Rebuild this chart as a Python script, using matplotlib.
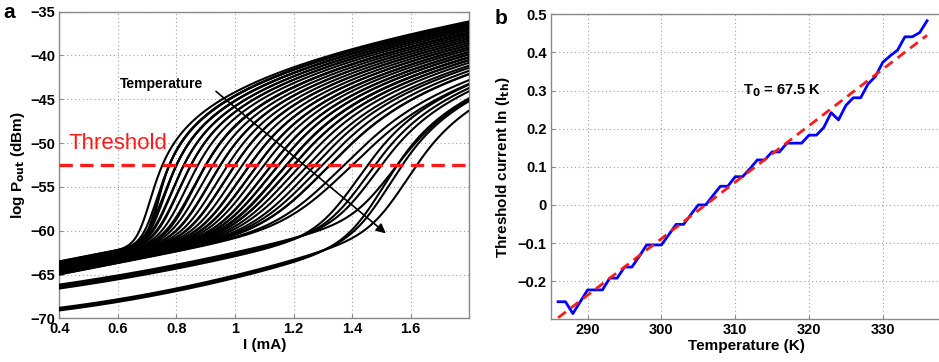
import numpy as np
import matplotlib
matplotlib.use("Agg")
import matplotlib.pyplot as plt

plt.rcParams['font.family'] = ['Liberation Sans', 'DejaVu Sans']
plt.rcParams['axes.unicode_minus'] = True

# ---------------- data: panel b ----------------
temperature_K = [286, 287, 288, 289, 290, 291, 292, 293, 294, 295,
                 296, 297, 298, 299, 300, 301, 302, 303, 304, 305,
                 306, 307, 308, 309, 310, 311, 312, 313, 314, 315,
                 316, 317, 318, 319, 320, 321, 322, 323, 324, 325,
                 326, 327, 328, 329, 330, 331, 332, 333, 334, 335, 336]
ln_ith = [-0.254, -0.254, -0.285, -0.254, -0.223, -0.223, -0.223, -0.192, -0.192, -0.163,
          -0.163, -0.135, -0.105, -0.105, -0.105, -0.078, -0.051, -0.051, -0.025, 0.0,
          0.0, 0.025, 0.049, 0.049, 0.074, 0.074, 0.095, 0.118, 0.118, 0.139,
          0.139, 0.162, 0.162, 0.162, 0.183, 0.183, 0.203, 0.242, 0.223, 0.261,
          0.281, 0.281, 0.317, 0.337, 0.374, 0.391, 0.406, 0.441, 0.441, 0.452, 0.483]
fit_T = [286, 336]
fit_ln = [-0.296, 0.445]
t0_label = "T$_\\mathbf{0}$ = 67.5 K"

# ---------------- data: panel a ----------------
threshold_dbm = -52.5
# sub-threshold baselines: level at 0.4 mA, slope (dB/mA), curvature (dB/mA^2)
baseline_upper_start = [-63.5, -65.0]
baseline_upper_slope = 6.5
baseline_mid = (-66.6, 4.8, 2.2)
baseline_low = (-69.1, 4.2, 3.3)
group_of_curve = ["upper"] * 44 + ["mid"] * 4 + ["low"] * 3
turn_on_width_upper = [0.015, 0.085]  # mA, coldest -> hottest upper-bundle curve
turn_on_width_mid = 0.055
turn_on_width_low = 0.05
stim_level = -39.8                    # above-threshold level reference (dBm)
stim_slope = 3.0                      # dB/mA

# ---------------- figure ----------------
fig = plt.figure(figsize=(9.39, 3.62), dpi=100)
axa = fig.add_axes([0.0632, 0.1207, 0.4366, 0.847])
axb = fig.add_axes([0.5865, 0.118, 0.4165, 0.8425])

grid_kw = dict(color='#a0a0a0', linestyle=(0, (1, 2.5)), linewidth=0.8)
for ax in (axa, axb):
    for s in ax.spines.values():
        s.set_color('#888888')
        s.set_linewidth(1.0)
    ax.tick_params(direction='in', length=3, color='#888888',
                   labelsize=10.5, pad=3, top=False, right=False)
    ax.grid(True, **grid_kw)
    ax.set_axisbelow(True)

# ---- panel a curves ----
I = np.linspace(0.4, 1.8, 500)
n = len(temperature_K)
Ith = np.exp(np.array(ln_ith))
upper_idx = [k for k, g in enumerate(group_of_curve) if g == "upper"]
for k in range(n):
    g = group_of_curve[k]
    d = I - 0.4
    if g == "upper":
        frac = upper_idx.index(k) / max(len(upper_idx) - 1, 1)
        b0 = baseline_upper_start[0] + frac * (baseline_upper_start[1] - baseline_upper_start[0])
        base = b0 + baseline_upper_slope * d
        w = turn_on_width_upper[0] + (turn_on_width_upper[1] - turn_on_width_upper[0]) * frac ** 0.85
    elif g == "mid":
        b0, s1, s2 = baseline_mid
        base = b0 + s1 * d + s2 * d ** 2 + 0.15 * (k - 44)
        w = turn_on_width_mid
    else:
        b0, s1, s2 = baseline_low
        base = b0 + s1 * d + s2 * d ** 2 + 0.15 * (k - 48)
        w = turn_on_width_low
    A = stim_level - 0.01 * (temperature_K[k] - temperature_K[0])
    It = Ith[k] - 0.05
    for _ in range(10):
        x = I - It
        sp = w * np.logaddexp(0, x / w)
        Lst = A + 10 * np.log10(sp) + stim_slope * np.clip(x, 0, None)
        L = 10 * np.log10(10 ** (base / 10) + 10 ** (Lst / 10))
        idx = int(np.argmax(L >= threshold_dbm))
        if L[idx] < threshold_dbm:
            It -= 0.05
            continue
        if idx == 0:
            It += 0.05
            continue
        cross = np.interp(threshold_dbm, L[idx - 1:idx + 1], I[idx - 1:idx + 1])
        It += Ith[k] - cross
    axa.plot(I, L, color='black', linewidth=1.5, zorder=3)

axa.axhline(threshold_dbm, color='#ff1a1a', linewidth=2.4, linestyle=(0, (4, 2.2)), zorder=4)
axa.text(0.43, -50.0, "Threshold", color='#ff1a1a', fontsize=16, va='center', ha='left', zorder=5)
axa.annotate("", xy=(1.515, -60.3), xytext=(0.935, -44.1),
             arrowprops=dict(arrowstyle='-|>', color='black', lw=1.2,
                             mutation_scale=14, shrinkA=0, shrinkB=0), zorder=6)
axa.text(0.606, -43.2, "Temperature", fontsize=10, fontweight='bold', ha='left', va='center', zorder=6)

axa.set_xlim(0.4, 1.8)
axa.set_ylim(-70, -35)
axa.set_xticks([0.4, 0.6, 0.8, 1.0, 1.2, 1.4, 1.6])
axa.set_xticklabels(["0.4", "0.6", "0.8", "1", "1.2", "1.4", "1.6"])
axa.set_yticks(np.arange(-70, -34, 5))
for lab in axa.get_xticklabels() + axa.get_yticklabels():
    lab.set_fontweight('bold')
axa.set_xlabel("I (mA)", fontsize=11, fontweight='bold', labelpad=1)
axa.set_ylabel("log P$_{\\mathbf{out}}$ (dBm)", fontsize=11, fontweight='bold', labelpad=2)

# ---- panel b ----
axb.plot(temperature_K, ln_ith, color='#0000ff', linewidth=2.0, zorder=3)
axb.plot(fit_T, fit_ln, color='#ff1a1a', linewidth=2.0, linestyle=(0, (3.5, 2.2)), zorder=4)
axb.text(311.0, 0.30, t0_label, fontsize=10.5, fontweight='bold', ha='left', va='center')
axb.set_xlim(285, 338)
axb.set_ylim(-0.3, 0.5)
axb.set_xticks([290, 300, 310, 320, 330])
axb.set_yticks([-0.2, -0.1, 0, 0.1, 0.2, 0.3, 0.4, 0.5])
axb.set_yticklabels(["\u22120.2", "\u22120.1", "0", "0.1", "0.2", "0.3", "0.4", "0.5"])
for lab in axb.get_xticklabels() + axb.get_yticklabels():
    lab.set_fontweight('bold')
axb.spines['right'].set_visible(False)
axb.set_xlabel("Temperature (K)", fontsize=11, fontweight='bold', labelpad=1)
axb.set_ylabel("Threshold current ln (I$_{\\mathbf{th}}$)", fontsize=11, fontweight='bold', labelpad=4)

fig.text(0.004, 0.965, "a", fontsize=15, fontweight='bold', va='center', ha='left')
fig.text(0.527, 0.948, "b", fontsize=15, fontweight='bold', va='center', ha='left')

fig.savefig("out.png", dpi=100)
